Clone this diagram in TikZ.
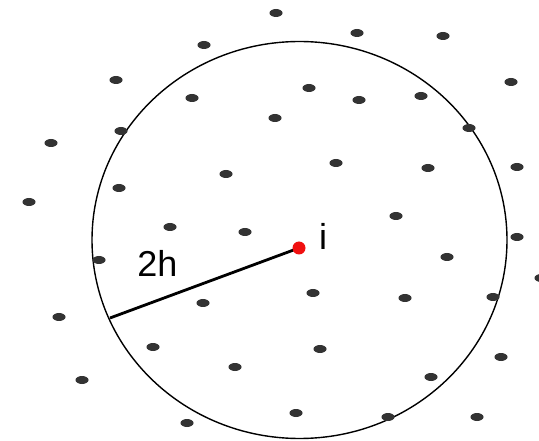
\documentclass[tikz,border=0pt]{standalone}
\usepackage{fontspec}
\setmainfont{Liberation Sans}
\usetikzlibrary{shapes.geometric}
\definecolor{dotgray}{HTML}{333333}
\definecolor{centerred}{HTML}{F01010}
\tikzset{
  pt/.style={fill=dotgray, draw=none},
  lbl/.style={font=\fontsize{36}{40}\selectfont, inner sep=0pt, text=black},
  rim/.style={draw=black, line width=1.4pt},
  radius line/.style={draw=black, line width=2.8pt},
  reddot/.style={circle, fill=centerred, inner sep=0pt, minimum size=13pt}
}
\begin{document}
\begin{tikzpicture}[x=1pt,y=-1pt]
\useasboundingbox (0,0) rectangle (539,441);
\fill[white] (0,0) rectangle (539,441);
% big circle
\draw[rim] (299.5,240) ellipse [x radius=207.5, y radius=198.5];
% scattered points
\foreach \x/\y in {
 204/45, 116/80, 192/98, 121/131, 51/143, 226/174, 119/188, 29/202,
 276/13, 275/118,
 357/33, 443/36, 511/82, 309/88, 359/100, 421/96, 469/128,
 336/163, 428/168, 517/167, 396/216,
 170/227, 245/232, 99/260, 203/303, 59/317, 153/347, 235/367, 82/380, 187/423,
 517/237, 447/257, 313/293, 405/298, 493/297, 541/278,
 320/349, 431/377, 501/357, 296/413, 388/417, 477/417}
 \fill[pt] (\x,\y) ellipse [x radius=6.5, y radius=4];
% center and radius
\coordinate (rimpt) at (110,318);
\coordinate (ic) at (299,248);
\draw[radius line] (rimpt) -- (ic);
\node[reddot] (i) at (ic) {};
\node[lbl, anchor=base] (ilabel) at (323,250) {i};
\node[lbl, anchor=base] (twoh) at (157.5,277) {2h};
\end{tikzpicture}
\end{document}
